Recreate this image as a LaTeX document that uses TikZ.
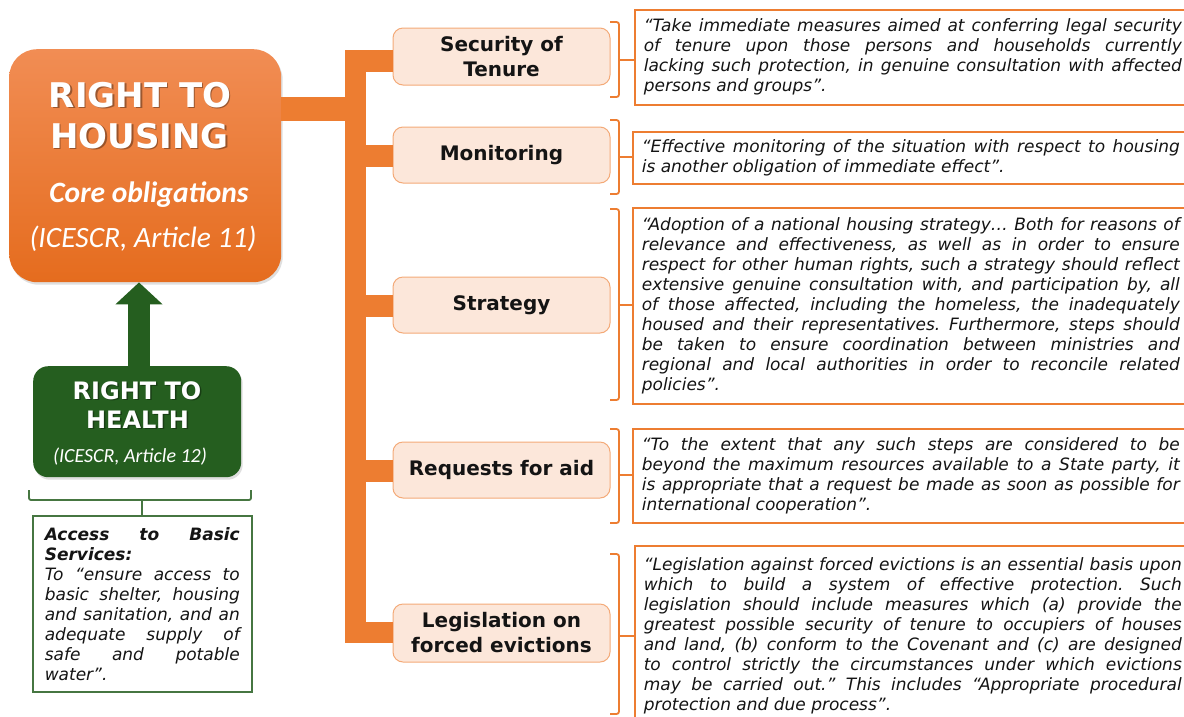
\documentclass[tikz,border=0pt]{standalone}
\usepackage{fontspec}
\setmainfont{DejaVu Sans}
\newfontfamily\calibri{Carlito}
\usetikzlibrary{arrows.meta,shadows}
\definecolor{orM}{RGB}{237,125,49}
\definecolor{orTop}{RGB}{241,141,84}
\definecolor{orBot}{RGB}{229,108,30}
\definecolor{labFill}{RGB}{252,231,218}
\definecolor{labBorder}{RGB}{244,170,120}
\definecolor{grn}{RGB}{37,94,31}
\definecolor{txt}{RGB}{20,20,20}
\newcommand\qfont{\fontsize{17}{20}\selectfont\itshape\frenchspacing}
\frenchspacing
\begin{document}
\begin{tikzpicture}[x=1pt,y=-1pt,
  mainbox/.style={rounded corners=28pt, top color=orTop, bottom color=orBot, draw=none,
     minimum width=272pt, minimum height=233pt, anchor=north west, inner sep=0pt,
     drop shadow={opacity=0.25, shadow xshift=1.5pt, shadow yshift=-2.5pt}},
  greenbox/.style={rounded corners=15pt, fill=grn, draw=none,
     minimum width=208pt, minimum height=111pt, anchor=north west, inner sep=0pt,
     drop shadow={opacity=0.25, shadow xshift=1.5pt, shadow yshift=-2.5pt}},
  wtext/.style={anchor=base, text=white, inner sep=0pt},
  stext/.style={anchor=base, text=black, opacity=0.35, inner sep=0pt},
  lab/.style={draw=labBorder, line width=1pt, fill=labFill, rounded corners=10pt,
     minimum width=217pt, align=center, text=txt, inner sep=0pt,
     font=\fontsize{20}{25}\selectfont\bfseries},
  quote/.style={draw=orM, line width=1.6pt, fill=white, anchor=north west,
     inner xsep=9pt, inner ysep=0pt, text width=538pt, align=justify, text=txt, font=\qfont},
  bar/.style={draw=orM, line width=22pt},
  brk/.style={draw=orM, line width=1.8pt, rounded corners=2.5pt},
  gbrk/.style={draw=grn!85!white, line width=1.8pt, rounded corners=2pt}
]
\useasboundingbox (0,0) rectangle (1184,716);
\fill[white] (0,0) rectangle (1184,716);

% ---- main box
\node[mainbox] (main) at (9,49) {};
\node[stext, font=\fontsize{34}{40}\selectfont\bfseries] (s1) at (141.5,108.5) {RIGHT TO};
\node[wtext, font=\fontsize{34}{40}\selectfont\bfseries] (t1) at (140,107) {RIGHT TO};
\node[stext, font=\fontsize{34}{40}\selectfont\bfseries] (s2) at (141,149.5) {HOUSING};
\node[wtext, font=\fontsize{34}{40}\selectfont\bfseries] (t2) at (139.5,148) {HOUSING};
\node[wtext, font=\calibri\fontsize{29.5}{34}\selectfont\bfseries\itshape] (t3) at (149,202) {Core obligations};
\node[wtext, font=\calibri\fontsize{29.5}{34}\selectfont\itshape] (t4) at (143,247) {(ICESCR, Article 11)};

% ---- green box
\node[greenbox] (hl) at (33,366) {};
\node[stext, font=\fontsize{24}{28}\selectfont\bfseries] (s5) at (138.5,400.5) {RIGHT TO};
\node[wtext, font=\fontsize{24}{28}\selectfont\bfseries] (t5) at (137,399) {RIGHT TO};
\node[stext, font=\fontsize{24}{28}\selectfont\bfseries] (s6) at (139,429.5) {HEALTH};
\node[wtext, font=\fontsize{24}{28}\selectfont\bfseries] (t6) at (137.5,428) {HEALTH};
\node[wtext, font=\calibri\fontsize{20}{24}\selectfont\itshape] (t7) at (130,462) {(ICESCR, Article 12)};

% arrow green -> main
\draw[draw=grn, line width=22pt, -{Triangle[width=46pt,length=22pt]}]
  (hl.north -| 139,0) -- (main.south -| 139,0);

% green brace and access box
\node[draw=grn!85!white, line width=1.6pt, fill=white, anchor=north west,
  minimum width=219pt, minimum height=176pt, inner xsep=12pt, inner ysep=0pt,
  text width=195pt, align=justify, text=txt, font=\qfont] (acc) at (32,515)
  {\textbf{Access to Basic\linebreak Services:}\\
   To “ensure access to\linebreak basic shelter, housing\linebreak and sanitation, and an\linebreak adequate supply of\linebreak safe and potable\linebreak water”.};
\draw[gbrk] (29,490) -- (29,500) -- (251,500) -- (251,490);
\draw[gbrk, rounded corners=0pt] (acc.north |- 0,500) -- (acc.north);

% ---- trunk and bars
\coordinate (trT) at (355.5,50);
\coordinate (trB) at (355.5,643);
\draw[orM, line width=21pt] (trT) -- (trB);
\draw[bar, line width=24pt] (main.east |- 0,109) -- (trT |- 0,109);

% ---- labels
\node[lab, minimum height=57pt] (sec) at (501.5,56.5) {Security of\\Tenure};
\node[lab, minimum height=56pt] (mon) at (501.5,155) {Monitoring};
\node[lab, minimum height=56pt] (str) at (501.5,305) {Strategy};
\node[lab, minimum height=56pt] (req) at (501.5,470) {Requests for aid};
\node[lab, minimum height=58pt] (leg) at (501.5,633) {Legislation on\\forced evictions};

\draw[bar] (trT |- 0,61) -- (sec.west |- 0,61);
\draw[bar] (trT |- 0,156) -- (mon.west |- 0,156);
\draw[bar] (trT |- 0,306) -- (str.west |- 0,306);
\draw[bar] (trT |- 0,470.5) -- (req.west |- 0,470.5);
\draw[bar, line width=21pt] (trT |- 0,632.5) -- (leg.west |- 0,632.5);

% ---- quote boxes
\begin{scope}
\clip (0,0) rectangle (1184,716);
\node[quote, minimum height=95pt] (q1) at (634,9)
 {“Take immediate measures aimed at conferring legal security\linebreak of tenure upon those persons and households currently\linebreak lacking such protection, in genuine consultation with affected\linebreak persons and groups”.};
\node[quote, minimum height=52pt] (q2) at (632,131)
 {“Effective monitoring of the situation with respect to housing\linebreak is another obligation of immediate effect”.};
\node[quote, minimum height=196pt] (q3) at (632,207)
 {“Adoption of a national housing strategy… Both for reasons of\linebreak relevance and effectiveness, as well as in order to ensure\linebreak respect for other human rights, such a strategy should reflect\linebreak extensive genuine consultation with, and participation by, all\linebreak of those affected, including the homeless, the inadequately\linebreak housed and their representatives. Furthermore, steps should\linebreak be taken to ensure coordination between ministries and\linebreak regional and local authorities in order to reconcile related\linebreak policies”.};
\node[quote, minimum height=94pt] (q4) at (632,428)
 {“To the extent that any such steps are considered to be\linebreak beyond the maximum resources available to a State party, it\linebreak is appropriate that a request be made as soon as possible for\linebreak international cooperation”.};
\node[quote, minimum height=180pt] (q5) at (634,545)
 {“Legislation against forced evictions is an essential basis upon\linebreak which to build a system of effective protection. Such\linebreak legislation should include measures which (a) provide the\linebreak greatest possible security of tenure to occupiers of houses\linebreak and land, (b) conform to the Covenant and (c) are designed\linebreak to control strictly the circumstances under which evictions\linebreak may be carried out.” This includes “Appropriate procedural\linebreak protection and due process”.};
\end{scope}

% ---- brackets
\draw[brk] (610,22) -- (619,22) -- (619,97) -- (610,97);
\draw[brk, rounded corners=0pt] (619,60) -- (q1.west |- 0,60);
\draw[brk] (610,120) -- (619,120) -- (619,194) -- (610,194);
\draw[brk, rounded corners=0pt] (619,157) -- (q2.west |- 0,157);
\draw[brk] (610,209) -- (619,209) -- (619,400) -- (610,400);
\draw[brk, rounded corners=0pt] (619,305) -- (q3.west |- 0,305);
\draw[brk] (610,429) -- (619,429) -- (619,523) -- (610,523);
\draw[brk, rounded corners=0pt] (619,475) -- (q4.west |- 0,475);
\draw[brk] (610,554) -- (619,554) -- (619,714) -- (610,714);
\draw[brk, rounded corners=0pt] (619,636) -- (q5.west |- 0,636);
\end{tikzpicture}
\end{document}
